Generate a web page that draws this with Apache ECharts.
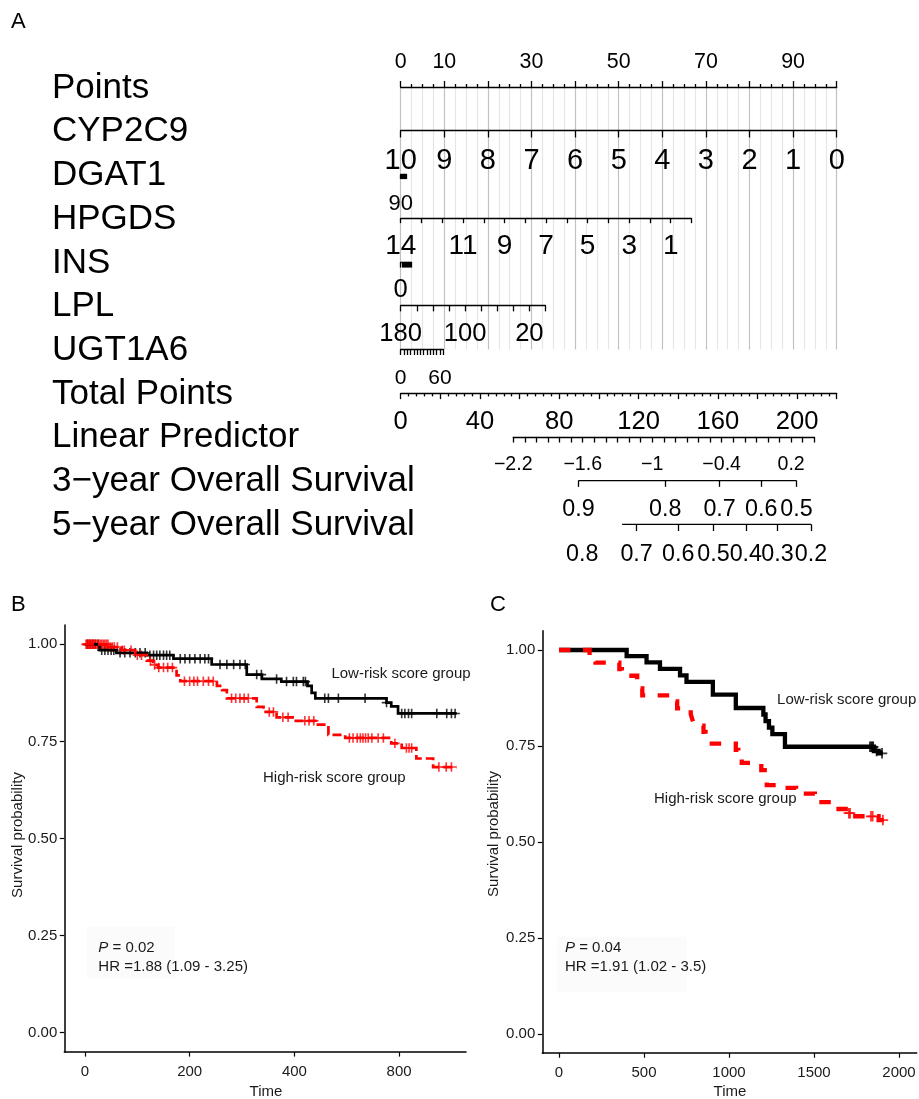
<!DOCTYPE html>
<html>
<head>
<meta charset="utf-8">
<title>Nomogram and Kaplan-Meier curves</title>
<script src="https://cdn.jsdelivr.net/npm/echarts@6.0.0/dist/echarts.min.js"></script>
<style>
html,body{margin:0;padding:0;background:#ffffff;}
#chart{width:919px;height:1099px;}
</style>
</head>
<body>
<div id="chart"></div>
<script>
// ================= DATA =================
// ---- Panel A: nomogram scales ----
const rowNames = ['Points','CYP2C9','DGAT1','HPGDS','INS','LPL','UGT1A6','Total Points','Linear Predictor','3\u2212year Overall Survival','5\u2212year Overall Survival'];

const pointsRange = [0, 100];
const pointsTickLabels = [0, 10, 30, 50, 70, 90];

const cyp2c9Range = [10, 0];   const cyp2c9Points = [0, 100];
const cyp2c9TickLabels = [10, 9, 8, 7, 6, 5, 4, 3, 2, 1, 0];
const dgat1Range = [90, 0];    const dgat1Points = [0, 1.3];
const dgat1TickLabels = [90];
const hpgdsRange = [14, 0];    const hpgdsPoints = [0, 66.7];
const hpgdsTickLabels = [14, 11, 9, 7, 5, 3, 1];
const insRange = [0, 10];      const insPoints = [0, 2.45];
const insTickLabels = [0];
const lplRange = [180, 0];     const lplPoints = [0, 33.2];
const lplTickLabels = [180, 100, 20];
const ugt1a6Range = [0, 65];   const ugt1a6Points = [0, 9.77];
const ugt1a6TickLabels = [0, 60];

const totalPointsRange = [0, 220];
const totalPointsTickLabels = [0, 40, 80, 120, 160, 200];

const lpRange = [-2.2, 0.4];   const lpTotalPoints = [56.8, 208.7];
const lpTickLabels = [-2.2, -1.6, -1, -0.4, 0.2];

const surv3Range = [0.9, 0.5];
const surv3TickLabels = [0.9, 0.8, 0.7, 0.6, 0.5];
const surv3Offset = -0.613;   // log(-log S) = LP + offset
const surv5Range = [0.73, 0.2];
const surv5TickLabels = [0.8, 0.7, 0.6, 0.5, 0.4, 0.3, 0.2];
const surv5Offset = 0.104;

// ---- Panel B: Kaplan-Meier (training) ----
const bTimeTicks = [0, 200, 400, 600];
const bTimeTickLabels = ['0', '200', '400', '800'];
const survTicks = [0, 0.25, 0.5, 0.75, 1];

const bLowTimes = [0, 28, 60, 118, 169, 242, 309, 338, 375, 425, 433, 440, 576, 585, 598];
const bLowSurv  = [1.0, 0.985, 0.978, 0.972, 0.963, 0.948, 0.922, 0.911, 0.904, 0.893, 0.875, 0.861, 0.850, 0.840, 0.822];
const bLowEnd = 710;
const bLowCensor = [5,10,15,20,25,32,38,44,50,55,67,76,86,96,105,115,124,131,137,143,150,156,162,182,191,200,210,220,229,236,258,271,284,296,306,328,337,366,385,398,404,417,421,458,465,484,535,576,605,611,618,624,672,691,700,707];

const bHighTimes = [0, 45, 70, 96, 118, 130, 140, 175, 182, 252, 262, 271, 328, 341, 366, 400, 440, 465, 497, 585, 605, 633, 665];
const bHighSurv  = [1.0, 0.993, 0.985, 0.972, 0.958, 0.947, 0.940, 0.920, 0.905, 0.893, 0.882, 0.861, 0.839, 0.826, 0.812, 0.803, 0.793, 0.767, 0.759, 0.745, 0.733, 0.706, 0.684];
const bHighEnd = 710;
const bHighCensor = [2,4,6,8,10,12,14,16,18,20,23,26,29,32,35,38,41,44,48,52,56,62,75,88,100,108,125,133,141,150,158,167,190,200,208,215,226,236,245,280,288,296,304,312,352,360,378,388,420,428,437,505,512,520,526,531,536,541,548,560,570,592,614,619,624,676,690,700];

// ---- Panel C: Kaplan-Meier (validation) ----
const cTimeTicks = [0, 500, 1000, 1500, 2000];
const cTimeTickLabels = ['0', '500', '1000', '1500', '2000'];

const cLowTimes = [0, 398, 515, 594, 712, 750, 905, 1040, 1202, 1215, 1235, 1255, 1329, 1852, 1880];
const cLowSurv  = [1.0, 0.984, 0.968, 0.951, 0.934, 0.917, 0.884, 0.849, 0.832, 0.815, 0.798, 0.781, 0.748, 0.737, 0.731];
const cLowEnd = 1905;
const cLowCensor = [1829, 1836, 1843, 1848, 1868, 1900];

const cHighTimes = [0, 180, 215, 355, 370, 460, 475, 490, 665, 695, 775, 785, 795, 850, 862, 872, 1040, 1055, 1075, 1190, 1210, 1222, 1300, 1395, 1505, 1625, 1700, 1720, 1880];
const cHighSurv  = [1.0, 0.985, 0.967, 0.950, 0.933, 0.917, 0.900, 0.882, 0.866, 0.848, 0.833, 0.818, 0.803, 0.787, 0.771, 0.756, 0.740, 0.724, 0.706, 0.687, 0.666, 0.648, 0.641, 0.626, 0.604, 0.586, 0.575, 0.567, 0.557];
const cHighEnd = 1910;
const cHighCensor = [1705, 1712, 1835, 1845, 1905];

// ================= CHART =================
const FONT = '"Liberation Sans", Arial, Helvetica, sans-serif';
const INK = '#000000';
const RED = '#ff0000';

const option = {
  animation: false,
  backgroundColor: '#ffffff',
  textStyle: { fontFamily: FONT },
  grid: [], xAxis: [], yAxis: [], series: [], graphic: []
};

// nomogram layout
const X0 = 400.7, PPT = 4.36, ROW0 = 87, ROWH = 43.73;
const rowY = i => ROW0 + ROWH * i;
const ptsToPx = p => X0 + p * PPT;
const tpToPx = tp => ptsToPx(tp / totalPointsRange[1] * pointsRange[1]);
const lpToPx = lp => tpToPx(lpTotalPoints[0] + (lp - lpRange[0]) / (lpRange[1] - lpRange[0]) * (lpTotalPoints[1] - lpTotalPoints[0]));
const r6 = v => Math.round(v * 1e6) / 1e6;
const fmtNum = v => String(r6(v)).replace('-', '\u2212');
const axisLineStyle = { color: INK, width: 1.3 };

// background grid lines of nomogram
(function () {
  const gi = option.grid.length;
  option.grid.push({ left: ptsToPx(pointsRange[0]), width: ptsToPx(pointsRange[1]) - ptsToPx(pointsRange[0]), top: rowY(0), height: rowY(6) - rowY(0), show: false });
  option.xAxis.push({ type: 'value', gridIndex: gi, min: pointsRange[0], max: pointsRange[1], interval: 10, z: 0,
    axisLine: { show: false }, axisTick: { show: false }, axisLabel: { show: false },
    minorTick: { show: false, splitNumber: 4 },
    splitLine: { show: true, lineStyle: { color: '#c2c2c2', width: 1.2 } },
    minorSplitLine: { show: true, lineStyle: { color: '#e6e6e6', width: 1.2 } } });
  option.yAxis.push({ type: 'value', gridIndex: gi, min: 0, max: 1, show: false });
})();

function addRowAxis(cfg) {
  const gi = option.grid.length;
  const y = rowY(cfg.row);
  option.grid.push({ left: cfg.left, width: cfg.right - cfg.left, top: cfg.top ? y : y - 1, height: 1, show: false });
  const xa = {
    type: 'value', gridIndex: gi, position: cfg.top ? 'top' : 'bottom', z: 3,
    min: cfg.min, max: cfg.max, inverse: !!cfg.inverse,
    axisLine: { show: cfg.showLine !== false, onZero: false, lineStyle: axisLineStyle },
    axisTick: { show: true, length: cfg.tickLen, lineStyle: axisLineStyle },
    axisLabel: { show: true, margin: cfg.offset, verticalAlign: 'middle', fontSize: cfg.fontSize, fontFamily: FONT, color: INK,
      formatter: cfg.formatter, showMinLabel: true, showMaxLabel: true },
    splitLine: { show: false }
  };
  if (cfg.interval != null) xa.interval = cfg.interval;
  if (cfg.tickValues) xa.axisTick.customValues = cfg.tickValues;
  if (cfg.labelValues) xa.axisLabel.customValues = cfg.labelValues;
  if (cfg.minor) xa.minorTick = { show: true, splitNumber: cfg.minor.split, length: cfg.minor.len, lineStyle: axisLineStyle };
  option.xAxis.push(xa);
  option.yAxis.push({ type: 'value', gridIndex: gi, min: 0, max: 1, show: false });
  return gi;
}

function linearRow(row, range, pts, interval, labels, style) {
  return addRowAxis(Object.assign({
    row, left: ptsToPx(pts[0]), right: ptsToPx(pts[1]),
    min: Math.min(range[0], range[1]), max: Math.max(range[0], range[1]), inverse: range[0] > range[1],
    interval, formatter: v => labels.includes(r6(v)) ? fmtNum(v) : ''
  }, style));
}

// Points (top axis)
addRowAxis({ row: 0, left: ptsToPx(0), right: ptsToPx(100), min: pointsRange[0], max: pointsRange[1], top: true,
  tickLen: 6, fontSize: 21.4, offset: 25.3, interval: 10, minor: { split: 4, len: 3 },
  formatter: v => pointsTickLabels.includes(r6(v)) ? fmtNum(v) : '' });

linearRow(1, cyp2c9Range, cyp2c9Points, 1, cyp2c9TickLabels, { tickLen: 6.7, fontSize: 29, offset: 30.3 });
linearRow(2, dgat1Range, dgat1Points, 10, dgat1TickLabels, { tickLen: 4.6, fontSize: 22, offset: 29.5 });
linearRow(3, hpgdsRange, hpgdsPoints, 1, hpgdsTickLabels, { tickLen: 5, fontSize: 28, offset: 27.7 });
linearRow(4, insRange, insPoints, 1, insTickLabels, { tickLen: 5.6, fontSize: 25.6, offset: 28.1 });
linearRow(5, lplRange, lplPoints, 20, lplTickLabels, { tickLen: 5.7, fontSize: 25.6, offset: 28 });
linearRow(6, ugt1a6Range, ugt1a6Points, 5, ugt1a6TickLabels, { tickLen: 5.6, fontSize: 21, offset: 29.3 });
linearRow(7, totalPointsRange, pointsRange, 20, totalPointsTickLabels, { tickLen: 6, fontSize: 25.6, offset: 29.2, minor: { split: 5, len: 3.3 } });

// Linear predictor
const lpTicks = [];
for (let k = Math.round(lpRange[0] * 10); k <= Math.round(lpRange[1] * 10); k++) lpTicks.push(k / 10);
addRowAxis({ row: 8, left: lpToPx(lpRange[0]), right: lpToPx(lpRange[1]), min: lpRange[0], max: lpRange[1],
  tickLen: 5.7, fontSize: 19.6, offset: 28, tickValues: lpTicks, labelValues: lpTickLabels, formatter: v => fmtNum(v) });

// survival probability rows (complementary log-log scale of the linear predictor)
const cll = (S, off) => Math.log(-Math.log(S)) - off;
function survRow(row, labels, range, off, style) {
  const lo = cll(labels[0], off), hi = cll(labels[labels.length - 1], off);
  const tickVals = labels.filter(s => s <= range[0] + 1e-9 && s >= range[1] - 1e-9).map(s => cll(s, off));
  const labelVals = labels.map(s => cll(s, off));
  const gi = addRowAxis(Object.assign({
    row, left: lpToPx(lo), right: lpToPx(hi), min: lo, max: hi, showLine: false,
    tickValues: tickVals, labelValues: labelVals,
    formatter: v => {
      let best = labels[0], bd = Infinity;
      labels.forEach(s => { const d = Math.abs(cll(s, off) - v); if (d < bd) { bd = d; best = s; } });
      return fmtNum(best);
    }
  }, style));
  option.series.push({ type: 'line', xAxisIndex: gi, yAxisIndex: gi, silent: true, symbol: 'none', clip: false, z: 3,
    data: [[cll(range[0], off), 0], [cll(range[1], off), 0]], lineStyle: { color: INK, width: 1.3 } });
}
survRow(9, surv3TickLabels, surv3Range, surv3Offset, { tickLen: 6.3, fontSize: 23.3, offset: 29 });
survRow(10, surv5TickLabels, surv5Range, surv5Offset, { tickLen: 6.7, fontSize: 23.3, offset: 30.7 });

// row names
rowNames.forEach((name, i) => {
  option.graphic.push({ type: 'text', x: 52, y: rowY(i) + 1, silent: true,
    style: { text: name, fontSize: 35, fontFamily: FONT, fill: INK, align: 'left', verticalAlign: 'middle' } });
});

// ---------- Kaplan-Meier panels ----------
const PLUS = 'path://M-0.17,-1L0.17,-1L0.17,-0.17L1,-0.17L1,0.17L0.17,0.17L0.17,1L-0.17,1L-0.17,0.17L-1,0.17L-1,-0.17L-0.17,-0.17Z';
function survAt(times, surv, t) {
  let s = surv[0];
  for (let i = 0; i < times.length; i++) if (times[i] <= t) s = surv[i];
  return s;
}
function stepData(times, surv, end) {
  const d = times.map((t, i) => [t, surv[i]]);
  d.push([end, surv[surv.length - 1]]);
  return d;
}
function kmPanel(cfg) {
  const gi = option.grid.length;
  option.grid.push({ left: cfg.left, top: cfg.top, width: cfg.width, height: cfg.height, show: false });
  const axStyle = { color: INK, width: 1.5 };
  option.xAxis.push({ type: 'value', gridIndex: gi, min: cfg.xMin, max: cfg.xMax, z: 3,
    axisLine: { show: true, onZero: false, lineStyle: axStyle },
    axisTick: { show: true, length: 4.5, customValues: cfg.xTicks, lineStyle: { color: INK, width: 1.2 } },
    axisLabel: { show: true, customValues: cfg.xTicks, margin: 20, verticalAlign: 'middle', fontSize: 15, fontFamily: FONT, color: '#1a1a1a',
      formatter: v => cfg.xLabels[cfg.xTicks.indexOf(v)] },
    splitLine: { show: false } });
  option.yAxis.push({ type: 'value', gridIndex: gi, min: -0.05, max: 1.05, z: 3,
    axisLine: { show: true, onZero: false, lineStyle: axStyle },
    axisTick: { show: true, length: 4.5, customValues: survTicks, lineStyle: { color: INK, width: 1.2 } },
    axisLabel: { show: true, customValues: survTicks, margin: 7, fontSize: 15, fontFamily: FONT, color: '#1a1a1a',
      formatter: v => v.toFixed(2) },
    splitLine: { show: false } });
  const groups = [
    { times: cfg.lowTimes, surv: cfg.lowSurv, end: cfg.lowEnd, censor: cfg.lowCensor, color: INK, dash: 'solid' },
    { times: cfg.highTimes, surv: cfg.highSurv, end: cfg.highEnd, censor: cfg.highCensor, color: RED, dash: cfg.dash }
  ];
  groups.forEach(g => {
    option.series.push({ type: 'line', xAxisIndex: gi, yAxisIndex: gi, step: 'end', symbol: 'none', silent: true,
      data: stepData(g.times, g.surv, g.end),
      lineStyle: { color: g.color, width: cfg.lineWidth, type: g.dash, join: 'miter' } });
    option.series.push({ type: 'scatter', xAxisIndex: gi, yAxisIndex: gi, silent: true,
      symbol: PLUS, symbolSize: cfg.plusSize,
      data: g.censor.map(t => [t, survAt(g.times, g.surv, t)]),
      itemStyle: { color: g.color } });
  });
}

kmPanel({ left: 64.3, top: 624.9, width: 401.7, height: 427.2, xMin: -39.5, xMax: 727.8,
  xTicks: bTimeTicks, xLabels: bTimeTickLabels,
  lowTimes: bLowTimes, lowSurv: bLowSurv, lowEnd: bLowEnd, lowCensor: bLowCensor,
  highTimes: bHighTimes, highSurv: bHighSurv, highEnd: bHighEnd, highCensor: bHighCensor,
  lineWidth: 2.7, dash: [9, 4], plusSize: 9.5 });

kmPanel({ left: 542.3, top: 630.8, width: 374.4, height: 422.4, xMin: -98.2, xMax: 2104,
  xTicks: cTimeTicks, xLabels: cTimeTickLabels,
  lowTimes: cLowTimes, lowSurv: cLowSurv, lowEnd: cLowEnd, lowCensor: cLowCensor,
  highTimes: cHighTimes, highSurv: cHighSurv, highEnd: cHighEnd, highCensor: cHighCensor,
  lineWidth: 4.3, dash: [11.5, 12.5], plusSize: 10.5 });

// annotation texts
function txt(text, x, y, o) {
  option.graphic.push(Object.assign({ type: 'text', x, y, silent: true,
    style: Object.assign({ text, fontSize: 15, fontFamily: FONT, fill: '#1a1a1a', align: 'center', verticalAlign: 'middle' }, o || {}) }));
}
option.graphic.unshift({ type: 'rect', silent: true, shape: { x: 86.7, y: 926.7, width: 88.3, height: 51.6 }, style: { fill: '#fbfbfb' } });
option.graphic.unshift({ type: 'rect', silent: true, shape: { x: 556.7, y: 936.7, width: 130, height: 55 }, style: { fill: '#fbfbfb' } });

txt('A', 11, 22, { fontSize: 22, align: 'left', fill: INK });
txt('B', 11, 605, { fontSize: 22, align: 'left', fill: INK });
txt('C', 490, 605, { fontSize: 22, align: 'left', fill: INK });

txt('Low-risk score group', 401, 674);
txt('High-risk score group', 334.3, 778.3);
txt('Low-risk score group', 846.7, 700);
txt('High-risk score group', 725.3, 799.3);

const pRich = { i: { fontStyle: 'italic', fontSize: 15, fontFamily: FONT, fill: '#1a1a1a' }, n: { fontSize: 15, fontFamily: FONT, fill: '#1a1a1a' } };
txt('{i|P}{n| = 0.02}', 98.3, 947.5, { align: 'left', rich: pRich });
txt('HR =1.88 (1.09 - 3.25)', 98.3, 966.5, { align: 'left' });
txt('{i|P}{n| = 0.04}', 565, 948.3, { align: 'left', rich: pRich });
txt('HR =1.91 (1.02 - 3.5)', 565, 967.3, { align: 'left' });

txt('Time', 266, 1092);
txt('Time', 730, 1092);
option.graphic.push({ type: 'text', x: 18.3, y: 835, rotation: Math.PI / 2, silent: true,
  style: { text: 'Survival probability', fontSize: 15, fontFamily: FONT, fill: '#1a1a1a', align: 'center', verticalAlign: 'middle' } });
option.graphic.push({ type: 'text', x: 494, y: 834, rotation: Math.PI / 2, silent: true,
  style: { text: 'Survival probability', fontSize: 15, fontFamily: FONT, fill: '#1a1a1a', align: 'center', verticalAlign: 'middle' } });

const chart = echarts.init(document.getElementById('chart'), null, { renderer: 'canvas', width: 919, height: 1099 });
chart.setOption(option);
</script>
</body>
</html>
